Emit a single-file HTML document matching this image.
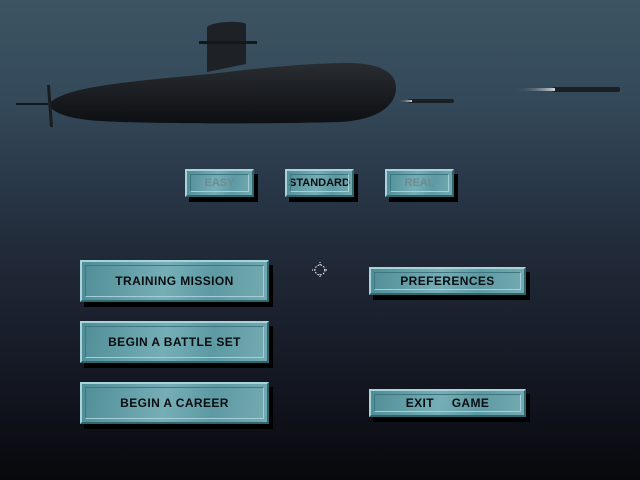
<!DOCTYPE html>
<html><head><style>
html,body{margin:0;padding:0}
body{width:640px;height:480px;overflow:hidden;position:relative;
background:linear-gradient(180deg,#3d5463 0%,#344a5a 20%,#2b3b4c 35%,#222c3b 50%,#1a1f2c 68%,#10131c 85%,#07080c 100%);
font-family:"Liberation Sans","DejaVu Sans",sans-serif}
.b{position:absolute;box-sizing:border-box;background:linear-gradient(100deg,#4f8d96 0%,#76aeb6 45%,#5d9aa3 70%,#75aab2 100%);
border:2px solid;border-color:#a6d4da #2e6670 #2e6670 #a6d4da;box-shadow:4px 5px 0 #000;
display:flex;align-items:center;justify-content:center;font-weight:bold;color:#0a0d10;font-size:12px;letter-spacing:0.4px;white-space:nowrap}
.b::before{content:"";position:absolute;left:3px;top:3px;right:3px;bottom:3px;border:1px solid;border-color:#3f7780 #a2d0d6 #a2d0d6 #3f7780}
.s{font-size:11px;letter-spacing:0}
.g{color:#6f8a8e}
</style></head><body>
<svg width="640" height="140" style="position:absolute;left:0;top:0">
<defs>
<linearGradient id="h" x1="0" y1="0" x2="0" y2="1"><stop offset="0" stop-color="#2a2e33"/><stop offset="0.5" stop-color="#1a1d21"/><stop offset="1" stop-color="#0e1013"/></linearGradient>
<linearGradient id="t" x1="0" x2="1"><stop offset="0" stop-color="#3a4c58" stop-opacity="0"/><stop offset="1" stop-color="#d0d8dc"/></linearGradient>
</defs>
<path d="M48,105 C60,88 120,82 210,74 C260,68 300,64 340,63 C380,62 396,72 396,88 C396,104 380,120 340,122 C260,124 150,124 100,121 C70,119 55,114 48,105 Z" fill="url(#h)"/>
<path d="M207,28 C207,22 240,20 246,24 L246,64 L207,72 Z" fill="#1e2227"/>
<rect x="199" y="41" width="58" height="3" fill="#15181b"/>
<rect x="16" y="103" width="32" height="2" fill="#15181b"/>
<path d="M47,85 L50,85 L53,127 L50,127 Z" fill="#1a1d20"/>
<rect x="408" y="99" width="46" height="4" rx="2" fill="#1c1f22"/>
<rect x="398" y="100" width="14" height="2" fill="url(#t)"/>
<rect x="552" y="87" width="68" height="5" rx="2" fill="#1c1f22"/>
<rect x="515" y="88" width="40" height="3" fill="url(#t)"/>
</svg>
<div class="b s g" style="left:185px;top:169px;width:69px;height:28px">EASY</div>
<div class="b s" style="left:285px;top:169px;width:69px;height:28px">STANDARD</div>
<div class="b s g" style="left:385px;top:169px;width:69px;height:28px">REAL</div>
<div class="b" style="left:80px;top:260px;width:189px;height:42px">TRAINING MISSION</div>
<div class="b" style="left:80px;top:321px;width:189px;height:42px">BEGIN A BATTLE SET</div>
<div class="b" style="left:80px;top:382px;width:189px;height:42px">BEGIN A CAREER</div>
<div class="b" style="left:369px;top:267px;width:157px;height:28px">PREFERENCES</div>
<div class="b" style="left:369px;top:389px;width:157px;height:28px;word-spacing:14px">EXIT GAME</div>
<svg width="16" height="16" style="position:absolute;left:312px;top:262px"><circle cx="8" cy="8" r="5" fill="none" stroke="#fff" stroke-width="1" stroke-dasharray="1.5 1.5"/><path d="M8,0V4M8,12V16M0,8H4M12,8H16" stroke="#fff" stroke-dasharray="1 1"/></svg>
</body></html>
